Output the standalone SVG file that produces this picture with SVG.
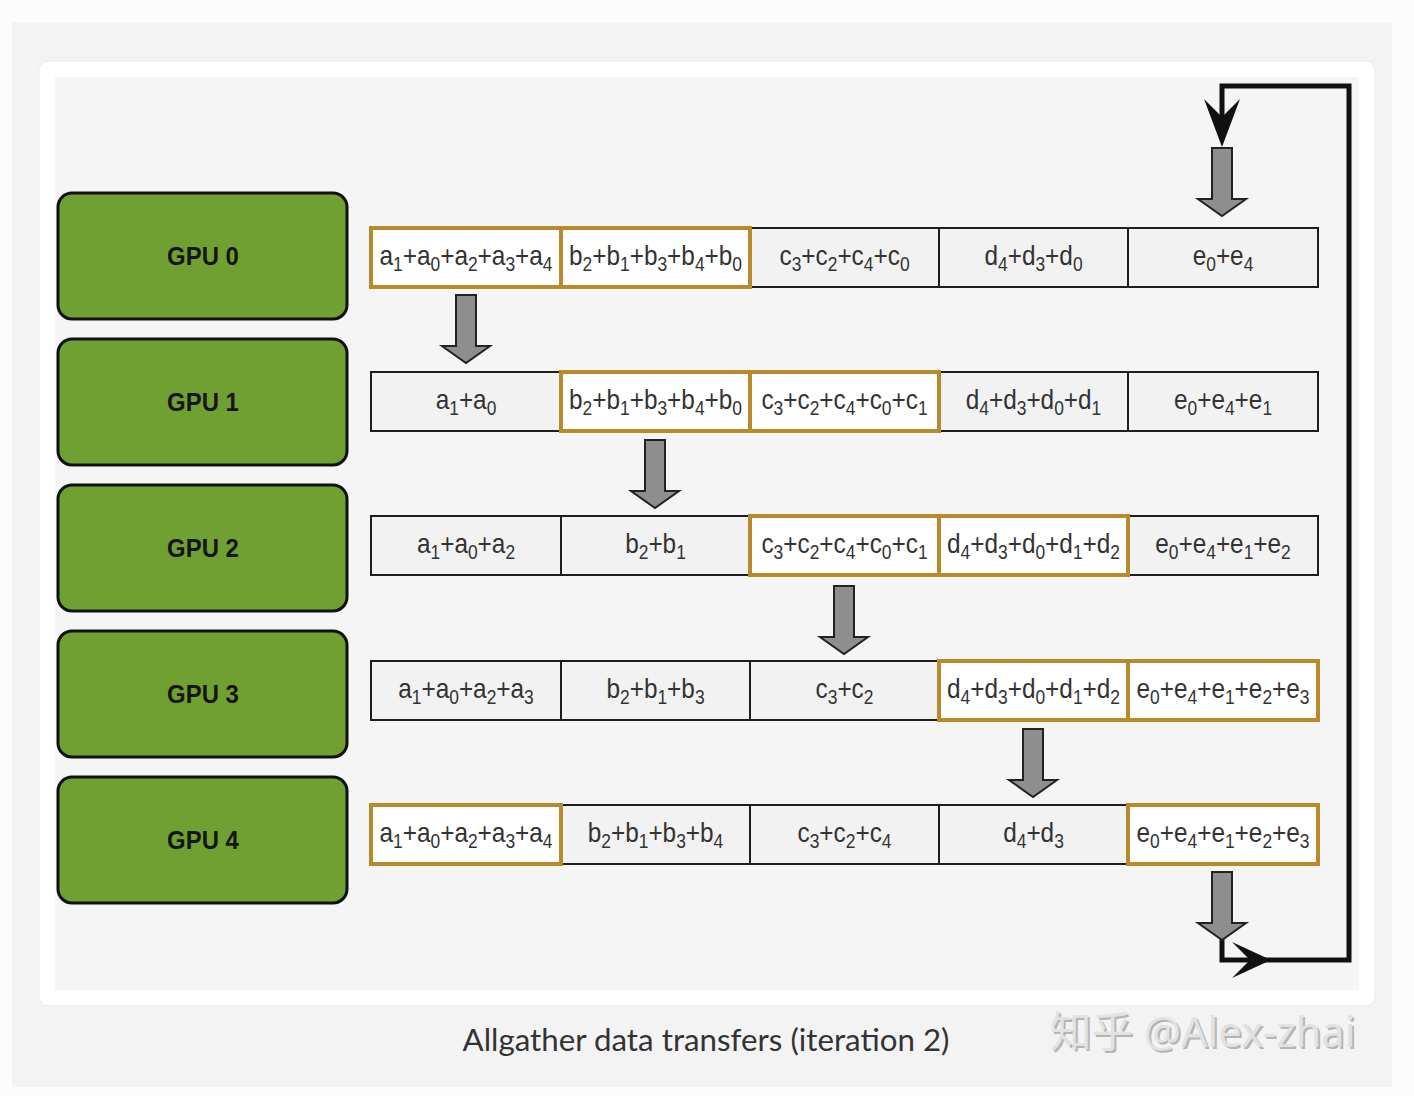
<svg xmlns="http://www.w3.org/2000/svg" width="1414" height="1096" viewBox="0 0 1414 1096">
<style>
.gpu rect{fill:#70a032;stroke:#111;stroke-width:3}
.gpu text{font-family:"Liberation Sans",Arial,sans-serif;font-weight:bold;font-size:26px;fill:#151515;text-anchor:middle}
.cell{fill:#f2f2f2;stroke:#1e1e1e;stroke-width:2}
.hl{fill:#ffffff;stroke:#b98a2c;stroke-width:4}
.t{font-family:"Liberation Sans",Arial,sans-serif;font-size:28px;fill:#333;text-anchor:middle}
.s{font-size:20px}
.blk{fill:#8e8e8e;stroke:#222;stroke-width:2;stroke-linejoin:miter}
.loop{fill:none;stroke:#111;stroke-width:5;stroke-linejoin:miter}
</style>
<defs>
<path id="barrow" d="M-10,0 H10 V51 H24 L0,68 L-24,51 H-10 Z"/>
</defs>
<rect x="0" y="0" width="1414" height="1096" fill="#fcfcfc"/>
<rect x="12" y="22" width="1380" height="1065" fill="#f3f3f3"/>
<rect x="39" y="61" width="1336" height="945" rx="9" fill="#ffffff" stroke="#ebebeb" stroke-width="1"/>
<rect x="55" y="77" width="1304" height="913" fill="#f5f5f5"/>

<g id="gpu0" class="gpu"><rect x="58" y="193" width="289" height="126" rx="14"/><text transform="translate(203,265) scale(0.92,1)">GPU 0</text></g>
<g id="gpu1" class="gpu"><rect x="58" y="339" width="289" height="126" rx="14"/><text transform="translate(203,411) scale(0.92,1)">GPU 1</text></g>
<g id="gpu2" class="gpu"><rect x="58" y="485" width="289" height="126" rx="14"/><text transform="translate(203,557) scale(0.92,1)">GPU 2</text></g>
<g id="gpu3" class="gpu"><rect x="58" y="631" width="289" height="126" rx="14"/><text transform="translate(203,703) scale(0.92,1)">GPU 3</text></g>
<g id="gpu4" class="gpu"><rect x="58" y="777" width="289" height="126" rx="14"/><text transform="translate(203,849) scale(0.92,1)">GPU 4</text></g>

<g id="row0">
<rect class="cell" x="371" y="228" width="190" height="59"/><rect class="cell" x="561" y="228" width="189" height="59"/><rect class="cell" x="750" y="228" width="189" height="59"/><rect class="cell" x="939" y="228" width="189" height="59"/><rect class="cell" x="1128" y="228" width="190" height="59"/>
<rect class="hl" x="371" y="228" width="190" height="59"/><rect class="hl" x="561" y="228" width="189" height="59"/>
<text class="t" transform="translate(466,265) scale(0.87,1)">a<tspan class="s" dy="6">1</tspan><tspan dy="-6">+a</tspan><tspan class="s" dy="6">0</tspan><tspan dy="-6">+a</tspan><tspan class="s" dy="6">2</tspan><tspan dy="-6">+a</tspan><tspan class="s" dy="6">3</tspan><tspan dy="-6">+a</tspan><tspan class="s" dy="6">4</tspan></text>
<text class="t" transform="translate(655.5,265) scale(0.87,1)">b<tspan class="s" dy="6">2</tspan><tspan dy="-6">+b</tspan><tspan class="s" dy="6">1</tspan><tspan dy="-6">+b</tspan><tspan class="s" dy="6">3</tspan><tspan dy="-6">+b</tspan><tspan class="s" dy="6">4</tspan><tspan dy="-6">+b</tspan><tspan class="s" dy="6">0</tspan></text>
<text class="t" transform="translate(844.5,265) scale(0.87,1)">c<tspan class="s" dy="6">3</tspan><tspan dy="-6">+c</tspan><tspan class="s" dy="6">2</tspan><tspan dy="-6">+c</tspan><tspan class="s" dy="6">4</tspan><tspan dy="-6">+c</tspan><tspan class="s" dy="6">0</tspan></text>
<text class="t" transform="translate(1033.5,265) scale(0.87,1)">d<tspan class="s" dy="6">4</tspan><tspan dy="-6">+d</tspan><tspan class="s" dy="6">3</tspan><tspan dy="-6">+d</tspan><tspan class="s" dy="6">0</tspan></text>
<text class="t" transform="translate(1223,265) scale(0.87,1)">e<tspan class="s" dy="6">0</tspan><tspan dy="-6">+e</tspan><tspan class="s" dy="6">4</tspan></text>
</g>

<g id="row1">
<rect class="cell" x="371" y="372" width="190" height="59"/><rect class="cell" x="561" y="372" width="189" height="59"/><rect class="cell" x="750" y="372" width="189" height="59"/><rect class="cell" x="939" y="372" width="189" height="59"/><rect class="cell" x="1128" y="372" width="190" height="59"/>
<rect class="hl" x="561" y="372" width="189" height="59"/><rect class="hl" x="750" y="372" width="189" height="59"/>
<text class="t" transform="translate(466,409) scale(0.87,1)">a<tspan class="s" dy="6">1</tspan><tspan dy="-6">+a</tspan><tspan class="s" dy="6">0</tspan></text>
<text class="t" transform="translate(655.5,409) scale(0.87,1)">b<tspan class="s" dy="6">2</tspan><tspan dy="-6">+b</tspan><tspan class="s" dy="6">1</tspan><tspan dy="-6">+b</tspan><tspan class="s" dy="6">3</tspan><tspan dy="-6">+b</tspan><tspan class="s" dy="6">4</tspan><tspan dy="-6">+b</tspan><tspan class="s" dy="6">0</tspan></text>
<text class="t" transform="translate(844.5,409) scale(0.87,1)">c<tspan class="s" dy="6">3</tspan><tspan dy="-6">+c</tspan><tspan class="s" dy="6">2</tspan><tspan dy="-6">+c</tspan><tspan class="s" dy="6">4</tspan><tspan dy="-6">+c</tspan><tspan class="s" dy="6">0</tspan><tspan dy="-6">+c</tspan><tspan class="s" dy="6">1</tspan></text>
<text class="t" transform="translate(1033.5,409) scale(0.87,1)">d<tspan class="s" dy="6">4</tspan><tspan dy="-6">+d</tspan><tspan class="s" dy="6">3</tspan><tspan dy="-6">+d</tspan><tspan class="s" dy="6">0</tspan><tspan dy="-6">+d</tspan><tspan class="s" dy="6">1</tspan></text>
<text class="t" transform="translate(1223,409) scale(0.87,1)">e<tspan class="s" dy="6">0</tspan><tspan dy="-6">+e</tspan><tspan class="s" dy="6">4</tspan><tspan dy="-6">+e</tspan><tspan class="s" dy="6">1</tspan></text>
</g>

<g id="row2">
<rect class="cell" x="371" y="516" width="190" height="59"/><rect class="cell" x="561" y="516" width="189" height="59"/><rect class="cell" x="750" y="516" width="189" height="59"/><rect class="cell" x="939" y="516" width="189" height="59"/><rect class="cell" x="1128" y="516" width="190" height="59"/>
<rect class="hl" x="750" y="516" width="189" height="59"/><rect class="hl" x="939" y="516" width="189" height="59"/>
<text class="t" transform="translate(466,553) scale(0.87,1)">a<tspan class="s" dy="6">1</tspan><tspan dy="-6">+a</tspan><tspan class="s" dy="6">0</tspan><tspan dy="-6">+a</tspan><tspan class="s" dy="6">2</tspan></text>
<text class="t" transform="translate(655.5,553) scale(0.87,1)">b<tspan class="s" dy="6">2</tspan><tspan dy="-6">+b</tspan><tspan class="s" dy="6">1</tspan></text>
<text class="t" transform="translate(844.5,553) scale(0.87,1)">c<tspan class="s" dy="6">3</tspan><tspan dy="-6">+c</tspan><tspan class="s" dy="6">2</tspan><tspan dy="-6">+c</tspan><tspan class="s" dy="6">4</tspan><tspan dy="-6">+c</tspan><tspan class="s" dy="6">0</tspan><tspan dy="-6">+c</tspan><tspan class="s" dy="6">1</tspan></text>
<text class="t" transform="translate(1033.5,553) scale(0.87,1)">d<tspan class="s" dy="6">4</tspan><tspan dy="-6">+d</tspan><tspan class="s" dy="6">3</tspan><tspan dy="-6">+d</tspan><tspan class="s" dy="6">0</tspan><tspan dy="-6">+d</tspan><tspan class="s" dy="6">1</tspan><tspan dy="-6">+d</tspan><tspan class="s" dy="6">2</tspan></text>
<text class="t" transform="translate(1223,553) scale(0.87,1)">e<tspan class="s" dy="6">0</tspan><tspan dy="-6">+e</tspan><tspan class="s" dy="6">4</tspan><tspan dy="-6">+e</tspan><tspan class="s" dy="6">1</tspan><tspan dy="-6">+e</tspan><tspan class="s" dy="6">2</tspan></text>
</g>

<g id="row3">
<rect class="cell" x="371" y="661" width="190" height="59"/><rect class="cell" x="561" y="661" width="189" height="59"/><rect class="cell" x="750" y="661" width="189" height="59"/><rect class="cell" x="939" y="661" width="189" height="59"/><rect class="cell" x="1128" y="661" width="190" height="59"/>
<rect class="hl" x="939" y="661" width="189" height="59"/><rect class="hl" x="1128" y="661" width="190" height="59"/>
<text class="t" transform="translate(466,698) scale(0.87,1)">a<tspan class="s" dy="6">1</tspan><tspan dy="-6">+a</tspan><tspan class="s" dy="6">0</tspan><tspan dy="-6">+a</tspan><tspan class="s" dy="6">2</tspan><tspan dy="-6">+a</tspan><tspan class="s" dy="6">3</tspan></text>
<text class="t" transform="translate(655.5,698) scale(0.87,1)">b<tspan class="s" dy="6">2</tspan><tspan dy="-6">+b</tspan><tspan class="s" dy="6">1</tspan><tspan dy="-6">+b</tspan><tspan class="s" dy="6">3</tspan></text>
<text class="t" transform="translate(844.5,698) scale(0.87,1)">c<tspan class="s" dy="6">3</tspan><tspan dy="-6">+c</tspan><tspan class="s" dy="6">2</tspan></text>
<text class="t" transform="translate(1033.5,698) scale(0.87,1)">d<tspan class="s" dy="6">4</tspan><tspan dy="-6">+d</tspan><tspan class="s" dy="6">3</tspan><tspan dy="-6">+d</tspan><tspan class="s" dy="6">0</tspan><tspan dy="-6">+d</tspan><tspan class="s" dy="6">1</tspan><tspan dy="-6">+d</tspan><tspan class="s" dy="6">2</tspan></text>
<text class="t" transform="translate(1223,698) scale(0.87,1)">e<tspan class="s" dy="6">0</tspan><tspan dy="-6">+e</tspan><tspan class="s" dy="6">4</tspan><tspan dy="-6">+e</tspan><tspan class="s" dy="6">1</tspan><tspan dy="-6">+e</tspan><tspan class="s" dy="6">2</tspan><tspan dy="-6">+e</tspan><tspan class="s" dy="6">3</tspan></text>
</g>

<g id="row4">
<rect class="cell" x="371" y="805" width="190" height="59"/><rect class="cell" x="561" y="805" width="189" height="59"/><rect class="cell" x="750" y="805" width="189" height="59"/><rect class="cell" x="939" y="805" width="189" height="59"/><rect class="cell" x="1128" y="805" width="190" height="59"/>
<rect class="hl" x="371" y="805" width="190" height="59"/><rect class="hl" x="1128" y="805" width="190" height="59"/>
<text class="t" transform="translate(466,842) scale(0.87,1)">a<tspan class="s" dy="6">1</tspan><tspan dy="-6">+a</tspan><tspan class="s" dy="6">0</tspan><tspan dy="-6">+a</tspan><tspan class="s" dy="6">2</tspan><tspan dy="-6">+a</tspan><tspan class="s" dy="6">3</tspan><tspan dy="-6">+a</tspan><tspan class="s" dy="6">4</tspan></text>
<text class="t" transform="translate(655.5,842) scale(0.87,1)">b<tspan class="s" dy="6">2</tspan><tspan dy="-6">+b</tspan><tspan class="s" dy="6">1</tspan><tspan dy="-6">+b</tspan><tspan class="s" dy="6">3</tspan><tspan dy="-6">+b</tspan><tspan class="s" dy="6">4</tspan></text>
<text class="t" transform="translate(844.5,842) scale(0.87,1)">c<tspan class="s" dy="6">3</tspan><tspan dy="-6">+c</tspan><tspan class="s" dy="6">2</tspan><tspan dy="-6">+c</tspan><tspan class="s" dy="6">4</tspan></text>
<text class="t" transform="translate(1033.5,842) scale(0.87,1)">d<tspan class="s" dy="6">4</tspan><tspan dy="-6">+d</tspan><tspan class="s" dy="6">3</tspan></text>
<text class="t" transform="translate(1223,842) scale(0.87,1)">e<tspan class="s" dy="6">0</tspan><tspan dy="-6">+e</tspan><tspan class="s" dy="6">4</tspan><tspan dy="-6">+e</tspan><tspan class="s" dy="6">1</tspan><tspan dy="-6">+e</tspan><tspan class="s" dy="6">2</tspan><tspan dy="-6">+e</tspan><tspan class="s" dy="6">3</tspan></text>
</g>

<g id="connectors">
<path class="loop" d="M1222,936 V960 H1349 V86 H1222 V128"/>
<polygon fill="#111" points="1222,147 1204,99 1222,117 1240,99"/>
<polygon fill="#111" points="1271,960 1232,942 1250,960 1232,978"/>
<use href="#barrow" class="blk" x="1222" y="148"/>
<use href="#barrow" class="blk" x="466" y="295"/>
<use href="#barrow" class="blk" x="655" y="440"/>
<use href="#barrow" class="blk" x="844" y="586"/>
<use href="#barrow" class="blk" x="1033" y="729"/>
<use href="#barrow" class="blk" x="1222" y="872"/>
</g>

<text x="706" y="1051" font-family="Lato,'Open Sans',sans-serif" font-size="31.3" fill="#333" text-anchor="middle">Allgather data transfers (iteration 2)</text>
<g font-family="'Noto Sans','Noto Sans CJK SC',sans-serif" font-size="41.5">
<text x="1052" y="1049" fill="#b5b5b5">知乎 @Alex-zhai</text>
<text x="1050" y="1047" fill="#e2e2e2">知乎 @Alex-zhai</text>
</g>
</svg>
